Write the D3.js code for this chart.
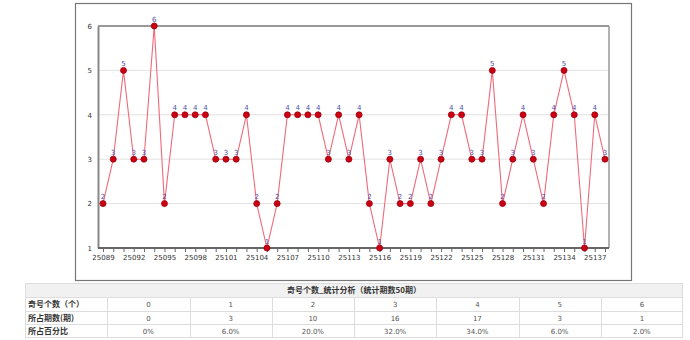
<!DOCTYPE html>
<html><head><meta charset="utf-8">
<script src="https://cdn.jsdelivr.net/npm/d3@7/dist/d3.min.js"></script>
<style>body{margin:0;background:#fff}svg{display:block}</style>
</head><body>
<svg id="c" width="690" height="340"></svg>
<script>
const periods = d3.range(25089, 25139).map(String);
const values = [2,3,5,3,3,6,2,4,4,4,4,3,3,3,4,2,1,2,4,4,4,4,3,4,3,4,2,1,3,2,2,3,2,3,4,4,3,3,5,2,3,4,3,2,4,5,4,1,4,3];
const yTicks = [1,2,3,4,5,6];
const tableTitle = "奇号个数_统计分析（统计期数50期）";
const rowLabels = ["奇号个数（个）","所占期数(期)","所占百分比"];
const oddCounts = ["0","1","2","3","4","5","6"];
const periodCounts = ["0","3","10","16","17","3","1"];
const percents = ["0%","6.0%","20.0%","32.0%","34.0%","6.0%","2.0%"];

const svg = d3.select("#c");
const font = "DejaVu Sans, Verdana, sans-serif";
const cjk = "'Noto Sans CJK SC', sans-serif";

// outer box
svg.append("rect").attr("x",75.5).attr("y",3.5).attr("width",556).attr("height",277)
  .attr("fill","#fff").attr("stroke","#777").attr("stroke-width",1.2);

const x = d3.scalePoint().domain(periods).range([103, 605]);
const y = d3.scaleLinear().domain([1,6]).range([248, 26]);
const L = 98, R = 609;

// gridlines
svg.append("g").selectAll("line").data(yTicks.slice(1,5)).join("line")
  .attr("x1",L).attr("x2",R).attr("y1",d=>y(d)).attr("y2",d=>y(d))
  .attr("stroke","#e2e2e2").attr("stroke-width",1);
// frame
svg.append("line").attr("x1",L).attr("x2",R).attr("y1",y(6)).attr("y2",y(6)).attr("stroke","#999").attr("stroke-width",2);
svg.append("line").attr("x1",R).attr("x2",R).attr("y1",y(6)).attr("y2",y(1)).attr("stroke","#999").attr("stroke-width",1.5);

// y axis
const ya = svg.append("g").attr("transform",`translate(${L},0)`)
  .call(d3.axisLeft(y).tickValues(yTicks).tickSize(0).tickPadding(6).tickFormat(d3.format("d")));
ya.select(".domain").attr("stroke","#888").attr("stroke-width",2);
ya.selectAll("text").attr("font-family",font).attr("font-size",7).attr("fill","#333");

// x axis
const xa = svg.append("g").attr("transform",`translate(0,${y(1)})`)
  .call(d3.axisBottom(x).tickSize(4).tickPadding(3).tickFormat((d,i)=> i%3===0 ? d : ""));
xa.select(".domain").attr("stroke","#666").attr("stroke-width",2).attr("d",`M${L},0H${R}`);
xa.selectAll(".tick line").attr("stroke","#666");
xa.selectAll("text").attr("font-family",font).attr("font-size",7).attr("fill","#333");

// line
svg.append("path").datum(values)
  .attr("fill","none").attr("stroke","#f06a7a").attr("stroke-width",1.1)
  .attr("d", d3.line().x((d,i)=>x(periods[i])).y(d=>y(d)));

// markers
svg.append("g").selectAll("circle").data(values).join("circle")
  .attr("cx",(d,i)=>x(periods[i])).attr("cy",d=>y(d)).attr("r",3)
  .attr("fill","#cc0011").attr("stroke","#990010").attr("stroke-width",0.8);

// labels
svg.append("g").selectAll("text").data(values).join("text")
  .attr("x",(d,i)=>x(periods[i])).attr("y",d=>y(d)-4.5)
  .attr("text-anchor","middle").attr("font-family",font).attr("font-size",7)
  .attr("fill","#5050a8").text(d=>d);

// table
const tL = 25, tR = 683, colW = (tR-tL)/8;
const tb = svg.append("g");
const rowsY = [283, 297, 311, 324, 337];
tb.append("rect").attr("x",tL).attr("y",rowsY[0]).attr("width",tR-tL).attr("height",rowsY[1]-rowsY[0]).attr("fill","#f1f1f1");
tb.append("rect").attr("x",tL+0.5).attr("y",rowsY[0]+0.5).attr("width",tR-tL-1).attr("height",rowsY[4]-rowsY[0]).attr("fill","none").attr("stroke","#ddd");
rowsY.slice(1,4).forEach(yy=>tb.append("line").attr("x1",tL).attr("x2",tR).attr("y1",yy+0.5).attr("y2",yy+0.5).attr("stroke","#ddd"));
d3.range(1,8).forEach(i=>tb.append("line").attr("x1",Math.round(tL+i*colW)+0.5).attr("x2",Math.round(tL+i*colW)+0.5).attr("y1",rowsY[1]).attr("y2",rowsY[4]).attr("stroke","#ddd"));
tb.append("text").attr("x",(tL+tR)/2).attr("y",rowsY[0]+10).attr("text-anchor","middle")
  .attr("font-family",cjk).attr("font-size",8).attr("font-weight","bold").attr("fill","#333").text(tableTitle);
const rows = [oddCounts, periodCounts, percents];
rows.forEach((r,ri)=>{
  const cy = (rowsY[ri+1]+rowsY[ri+2])/2 + 3;
  tb.append("text").attr("x",tL+3).attr("y",cy).attr("font-family",cjk).attr("font-size",8)
    .attr("font-weight","bold").attr("fill","#333").text(rowLabels[ri]);
  tb.append("g").selectAll("text").data(r).join("text")
    .attr("x",(d,i)=>tL+(i+1.5)*colW).attr("y",cy).attr("text-anchor","middle")
    .attr("font-family",font).attr("font-size",7).attr("fill","#555").text(d=>d);
});
</script>
</body></html>
